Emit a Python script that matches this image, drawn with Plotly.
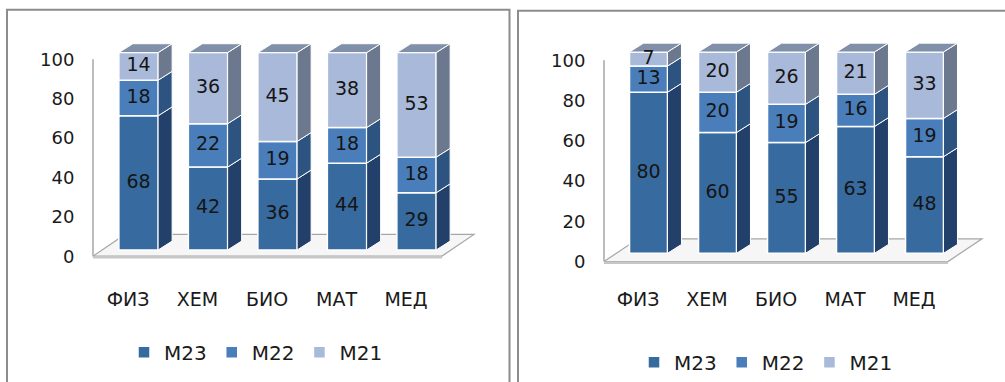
import plotly.graph_objects as go

# ---------------- data ----------------
categories = ["ФИЗ", "ХЕМ", "БИО", "МАТ", "МЕД"]
series_names = ["М23", "М22", "М21"]
left_M23 = [68, 42, 36, 44, 29]
left_M22 = [18, 22, 19, 18, 18]
left_M21 = [14, 36, 45, 38, 53]
right_M23 = [80, 60, 55, 63, 48]
right_M22 = [13, 20, 19, 16, 19]
right_M21 = [7, 20, 26, 21, 33]
y_ticks = [0, 20, 40, 60, 80, 100]

# ---------------- style ----------------
W, H = 1005, 382
FONT = "DejaVu Sans"
front_col = ["#376A9F", "#4A7EBB", "#A9B9D9"]
side_col = ["#23406A", "#2D5380", "#6B788D"]
top_col = "#8190A9"
DEPTH_PX = (14, 9)     # 3-D offset in pixels (dx, dy)


def fx(px):
    return px / W


def fy(px):
    return 1 - px / H


DOM_TOP, DOM_BOT = 38, 270

panels = [
    dict(vals=[left_M23, left_M22, left_M21], xa="x", ya="y", xt="x3", yt="y2",
         leg="legend", xpx=(93, 480), c0=138.5, pitch=69.5, bw=0.565,
         zero=253.3, ppu=2.0, tick_zero=260.0,
         floor=(259.5, 237.5, 93, 442, 32)),
    dict(vals=[right_M23, right_M22, right_M21], xa="x2", ya="y3", xt="x4", yt="y4",
         leg="legend2", xpx=(604, 992), c0=648.5, pitch=69.0, bw=0.55,
         zero=256.7, ppu=2.04, tick_zero=265.0,
         floor=(265.0, 242.0, 604, 948, 34)),
]

fig = go.Figure()
layout = dict(width=W, height=H, margin=dict(l=0, r=0, t=0, b=0),
              paper_bgcolor="white", plot_bgcolor="rgba(0,0,0,0)",
              barmode="overlay", showlegend=True, shapes=[])


def axname(a):
    return a[0] + "axis" + a[1:]


def path(xs, ys):
    pts = " L".join(f"{x:.5f},{y:.5f}" for x, y in zip(xs, ys))
    return "M" + pts + " Z"


for p in panels:
    xa, ya, xt, yt = p["xa"], p["ya"], p["xt"], p["yt"]
    n = len(categories)
    idx = list(range(n))
    x0px, x1px = p["xpx"]
    xr = [(x0px - p["c0"]) / p["pitch"], (x1px - p["c0"]) / p["pitch"]]
    shift = 10.5 / p["pitch"]
    yr = [-(DOM_BOT - p["zero"]) / p["ppu"], (p["zero"] - DOM_TOP) / p["ppu"]]
    ytr = [-(DOM_BOT - p["tick_zero"]) / p["ppu"], (p["tick_zero"] - DOM_TOP) / p["ppu"]]
    dx = DEPTH_PX[0] / p["pitch"]
    dy = DEPTH_PX[1] / p["ppu"]
    bw = p["bw"]

    layout[axname(xa)] = dict(domain=[fx(x0px), fx(x1px)], range=xr, anchor=ya,
                              showgrid=False, zeroline=False, showticklabels=False,
                              showline=False, fixedrange=True)
    layout[axname(ya)] = dict(domain=[fy(DOM_BOT), fy(DOM_TOP)], range=yr, anchor=xa,
                              showgrid=False, zeroline=False, showticklabels=False,
                              showline=False, fixedrange=True)
    layout[axname(yt)] = dict(overlaying=ya, anchor=xa, side="left", range=ytr,
                              tickvals=y_ticks, showgrid=False, zeroline=False,
                              ticks="outside", ticklen=14, tickcolor="rgba(0,0,0,0)",
                              tickfont=dict(family=FONT, size=18, color="#1a1a1a"),
                              showline=False, fixedrange=True)
    layout[axname(xt)] = dict(overlaying=xa, anchor=ya, side="bottom",
                              range=[xr[0] + shift, xr[1] + shift],
                              tickvals=idx, ticktext=categories, showgrid=False,
                              zeroline=False, ticks="outside", ticklen=16,
                              tickcolor="rgba(0,0,0,0)",
                              tickfont=dict(family=FONT, size=19, color="#1a1a1a"),
                              showline=False, fixedrange=True)

    # invisible traces so that the overlay label axes are drawn
    fig.add_trace(go.Scatter(x=idx, y=[0] * n, mode="markers", marker=dict(opacity=0),
                             xaxis=xt, yaxis=ya, showlegend=False, hoverinfo="skip"))
    fig.add_trace(go.Scatter(x=[0] * len(y_ticks), y=y_ticks, mode="markers",
                             marker=dict(opacity=0), xaxis=xa, yaxis=yt,
                             showlegend=False, hoverinfo="skip"))

    # floor (below traces)
    f_front, f_back, f_l, f_r, f_dx = p["floor"]
    yf = (p["zero"] - f_front) / p["ppu"]
    yb = (p["zero"] - f_back) / p["ppu"]
    xl = (f_l - p["c0"]) / p["pitch"]
    xrr = (f_r - p["c0"]) / p["pitch"]
    fdx = f_dx / p["pitch"]
    layout["shapes"].append(dict(type="path", xref=xa, yref=ya, layer="below",
                                 path=path([xl, xrr, xrr + fdx, xl + fdx], [yf, yf, yb, yb]),
                                 fillcolor="#f6f6f6", line=dict(color="#a6a6a6", width=1.2)))
    layout["shapes"].append(dict(type="line", xref=xa, yref=ya, layer="below",
                                 x0=xl, x1=xrr, y0=yf - 0.6, y1=yf - 0.6,
                                 line=dict(color="#c6c6c6", width=2.5)))

    # y axis line (back wall)
    layout["shapes"].append(dict(type="line", xref=xa + " domain", yref=yt, layer="below",
                                 x0=0, x1=0, y0=y_ticks[0], y1=y_ticks[-1],
                                 line=dict(color="#a6a6a6", width=1.5)))

    # stacked bars
    bases = [0] * n
    tops_all = []
    for s, vals in enumerate(p["vals"]):
        tops = [b + v for b, v in zip(bases, vals)]
        fig.add_trace(go.Bar(x=idx, y=vals, base=bases, width=bw, name=series_names[s],
                             marker=dict(color=front_col[s], line=dict(color="white", width=1.5)),
                             xaxis=xa, yaxis=ya, legend=p["leg"], hoverinfo="skip"))
        # side faces
        for i in idx:
            xs = i + bw / 2
            fig.add_trace(go.Scatter(
                x=[xs, xs + dx, xs + dx, xs, xs],
                y=[bases[i], bases[i] + dy, tops[i] + dy, tops[i], bases[i]],
                mode="lines", fill="toself", fillcolor=side_col[s],
                line=dict(color="white", width=1), xaxis=xa, yaxis=ya,
                showlegend=False, hoverinfo="skip"))
        tops_all.append((list(bases), tops, vals))
        bases = tops

    # top faces
    for i in idx:
        t = bases[i]
        xl0, xr0 = i - bw / 2, i + bw / 2
        fig.add_trace(go.Scatter(
            x=[xl0, xl0 + dx, xr0 + dx, xr0, xl0],
            y=[t, t + dy, t + dy, t, t],
            mode="lines", fill="toself", fillcolor=top_col,
            line=dict(color="white", width=1), xaxis=xa, yaxis=ya,
            showlegend=False, hoverinfo="skip"))

    # data labels
    for b, t, vals in tops_all:
        fig.add_trace(go.Scatter(
            x=idx, y=[bb + v / 2 for bb, v in zip(b, vals)],
            text=[str(v) for v in vals], mode="text",
            textfont=dict(family=FONT, size=19, color="#151515"),
            xaxis=xa, yaxis=ya, showlegend=False, hoverinfo="skip", cliponaxis=False))

legend_common = dict(orientation="h", xanchor="left", yanchor="middle",
                     bgcolor="rgba(0,0,0,0)", traceorder="normal",
                     font=dict(family=FONT, size=20, color="#1a1a1a"))
layout["legend"] = dict(legend_common, x=fx(124), y=fy(357))
layout["legend2"] = dict(legend_common, x=fx(634), y=fy(367))

# panel frames
layout["shapes"].append(dict(type="rect", xref="paper", yref="paper",
                             x0=fx(7), x1=fx(509.5), y0=fy(400), y1=fy(10),
                             line=dict(color="#8c8c8c", width=2), layer="below"))
layout["shapes"].append(dict(type="rect", xref="paper", yref="paper",
                             x0=fx(518), x1=fx(1020), y0=fy(400), y1=fy(11),
                             line=dict(color="#8c8c8c", width=2), layer="below"))

fig.update_layout(**layout)
fig.write_html("out.html")
